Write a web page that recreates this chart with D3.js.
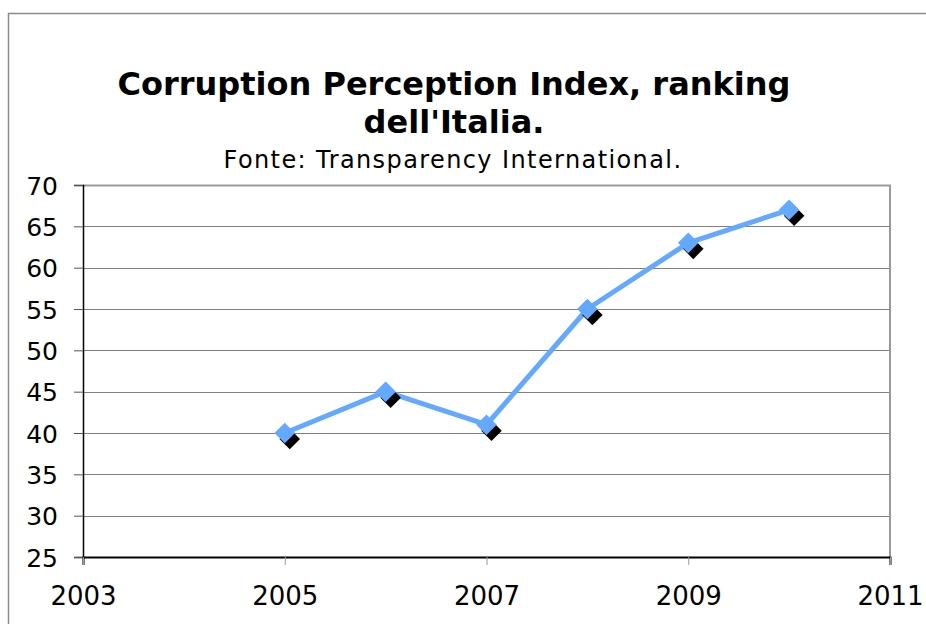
<!DOCTYPE html>
<html>
<head>
<meta charset="utf-8">
<script src="https://cdn.jsdelivr.net/npm/d3@7"></script>
<style>
  body { margin: 0; background: #fff; }
  text { font-family: "DejaVu Sans", Verdana, sans-serif; fill: #000; }
</style>
</head>
<body>
<svg width="926" height="624"></svg>
<script>
const years = [2005, 2006, 2007, 2008, 2009, 2010];
const ranking = [40, 45, 41, 55, 63, 67];
const xTicks = [2003, 2005, 2007, 2009, 2011];
const yTicks = [25, 30, 35, 40, 45, 50, 55, 60, 65, 70];
const titleLines = ['Corruption Perception Index, ranking', "dell'Italia."];
const subtitle = 'Fonte: Transparency International.';

const svg = d3.select('svg');
const margin = { top: 185, right: 36, bottom: 67, left: 83 };
const width = +svg.attr('width') - margin.left - margin.right;
const height = +svg.attr('height') - margin.top - margin.bottom;

const data = years.map((y, i) => ({ year: y, value: ranking[i] }));

// outer chart frame
svg.append('rect')
  .attr('x', 8.5).attr('y', 13.5)
  .attr('width', 940).attr('height', 640)
  .attr('fill', 'none').attr('stroke', '#8c8c8c').attr('stroke-width', 1.5);

const x = d3.scaleLinear().domain([2003, 2011]).range([0, width]);
const y = d3.scaleLinear().domain([25, 70]).range([height, 0]);

const g = svg.append('g')
  .attr('transform', `translate(${margin.left},${margin.top})`);

// gridlines
g.append('g')
  .selectAll('line')
  .data(yTicks.filter(d => d > 25 && d < 70))
  .join('line')
  .attr('x1', 0).attr('x2', width)
  .attr('y1', d => Math.round(y(d)) + 0.5).attr('y2', d => Math.round(y(d)) + 0.5)
  .attr('stroke', '#808080');

// top and right frame of plot area
g.append('path')
  .attr('d', `M0,0.5H${width}V${height}`)
  .attr('fill', 'none').attr('stroke', '#999').attr('stroke-width', 2);

// y axis
const yAxis = g.append('g')
  .call(d3.axisLeft(y).tickValues(yTicks).tickSize(9).tickPadding(16));
yAxis.select('.domain').attr('stroke', '#000').attr('stroke-width', 1.5);
yAxis.selectAll('.tick line').attr('stroke', '#555');
yAxis.selectAll('.tick text').attr('font-size', 25).attr('dy', '0.36em')
  .style('font-family', '"DejaVu Sans", Verdana, sans-serif');

// x axis
const xAxis = g.append('g')
  .attr('transform', `translate(0,${height})`)
  .call(d3.axisBottom(x).tickValues(xTicks).tickFormat(d3.format('d')).tickSize(8).tickPadding(22));
xAxis.select('.domain').attr('stroke', '#000').attr('stroke-width', 2);
xAxis.selectAll('.tick line').attr('stroke', '#999');
xAxis.selectAll('.tick text').attr('font-size', 26)
  .style('font-family', '"DejaVu Sans", Verdana, sans-serif');

// series line
const line = d3.line().x(d => x(d.year)).y(d => y(d.value));
g.append('path')
  .datum(data)
  .attr('d', line)
  .attr('fill', 'none')
  .attr('stroke', '#63a9ff')
  .attr('stroke-width', 5)
  .attr('stroke-linejoin', 'round');

// diamond markers with shadow
const diamond = d3.symbol().type(d3.symbolDiamond2).size(270);
g.append('g')
  .selectAll('path')
  .data(data)
  .join('path')
  .attr('d', diamond)
  .attr('transform', d => `translate(${x(d.year) + 5},${y(d.value) + 6})`)
  .attr('fill', '#000');
g.append('g')
  .selectAll('path')
  .data(data)
  .join('path')
  .attr('d', diamond)
  .attr('transform', d => `translate(${x(d.year)},${y(d.value)})`)
  .attr('fill', '#63a9ff');

// titles
svg.append('g')
  .selectAll('text')
  .data(titleLines)
  .join('text')
  .attr('x', 454)
  .attr('y', (d, i) => 95 + i * 38)
  .attr('text-anchor', 'middle')
  .attr('font-size', 32)
  .attr('font-weight', 'bold')
  .text(d => d);

svg.append('text')
  .attr('x', 453)
  .attr('y', 168)
  .attr('text-anchor', 'middle')
  .attr('font-size', 24)
  .attr('letter-spacing', 1.4)
  .text(subtitle);
</script>
</body>
</html>
